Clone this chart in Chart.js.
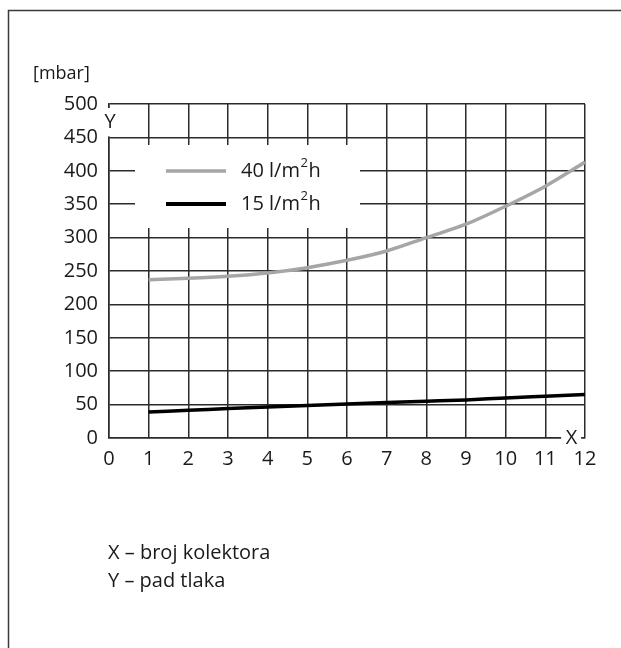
<!DOCTYPE html>
<html>
<head>
<meta charset="utf-8">
<script src="https://cdn.jsdelivr.net/npm/chart.js@4"></script>
<style>
html,body{margin:0;padding:0;background:#fff;}
#wrap{position:relative;width:621px;height:648px;}
canvas{display:block;}
</style>
</head>
<body>
<div id="wrap"><canvas id="c" width="621" height="648"></canvas></div>
<script>
const collectors = [1, 2, 3, 4, 5, 6, 7, 8, 9, 10, 11, 12];
const flow40 = [237, 239, 242, 247, 255, 266, 280, 300, 320, 347, 377, 413];
const flow15 = [39, 41.5, 44, 46.5, 48.5, 51, 53, 55, 57, 60, 62.5, 65];
const seriesLabels = ['40 l/m', '15 l/m'];
const unitLabel = '[mbar]';
const footnotes = ['X – broj kolektora', 'Y – pad tlaka'];

const FONT = '"Open Sans", sans-serif';
const GRID = '#2b2b2b';
const GRAY = '#a6a6a6';
const TXT = '#1a1a1a';

const decor = {
  id: 'decor',
  beforeDraw(chart) {
    const ctx = chart.ctx;
    ctx.save();
    ctx.strokeStyle = '#3a3a3a';
    ctx.lineWidth = 1.5;
    ctx.beginPath();
    ctx.moveTo(8.5, 648); ctx.lineTo(8.5, 10.5); ctx.lineTo(621, 10.5);
    ctx.stroke();
    ctx.fillStyle = TXT;
    ctx.textBaseline = 'middle';
    ctx.textAlign = 'left';
    ctx.font = '18px ' + FONT;
    ctx.fillText(unitLabel, 33, 74);
    ctx.font = '20px ' + FONT;
    ctx.fillText(footnotes[0], 108, 553);
    ctx.fillText(footnotes[1], 108, 581);
    ctx.restore();
  },
  beforeDatasetsDraw(chart) {
    const ctx = chart.ctx;
    const xs = chart.scales.x, ys = chart.scales.y;
    ctx.save();
    // legend box
    ctx.fillStyle = '#fff';
    ctx.fillRect(135, 145, 225, 83);
    const rows = [
      {label: seriesLabels[0], color: GRAY, w: 3.5, y: 171},
      {label: seriesLabels[1], color: '#000', w: 4, y: 204}
    ];
    ctx.textBaseline = 'middle';
    ctx.textAlign = 'left';
    rows.forEach(r => {
      ctx.strokeStyle = r.color; ctx.lineWidth = r.w;
      ctx.beginPath(); ctx.moveTo(166, r.y); ctx.lineTo(226, r.y); ctx.stroke();
      ctx.fillStyle = TXT;
      ctx.font = '20px ' + FONT;
      ctx.fillText(r.label, 241, r.y);
      let wd = ctx.measureText(r.label).width;
      ctx.font = '13px ' + FONT;
      ctx.fillText('2', 241 + wd + 0.5, r.y - 8);
      let w2 = ctx.measureText('2').width;
      ctx.font = '20px ' + FONT;
      ctx.fillText('h', 241 + wd + w2 + 1, r.y);
    });
    // Y axis label gap
    const x0 = xs.getPixelForValue(0);
    const y500 = ys.getPixelForValue(500);
    ctx.fillStyle = '#fff';
    ctx.fillRect(x0 - 7, y500 + 4, 15, ys.getPixelForValue(450) - y500 - 5);
    ctx.fillStyle = TXT;
    ctx.font = '20px ' + FONT;
    ctx.textAlign = 'center';
    ctx.fillText('Y', x0 + 1, y500 + 18);
    // X axis label gap
    const y0 = ys.getPixelForValue(0);
    const x11 = xs.getPixelForValue(11.65);
    ctx.fillStyle = '#fff';
    ctx.fillRect(x11 - 10, y0 - 12, 20, 14);
    ctx.fillStyle = TXT;
    ctx.fillText('X', x11 + 0.5, y0);
    ctx.restore();
  }
};

new Chart(document.getElementById('c'), {
  type: 'line',
  data: {
    datasets: [
      {
        label: seriesLabels[0] + '²h',
        data: collectors.map((c, i) => ({x: c, y: flow40[i]})),
        borderColor: GRAY, borderWidth: 3.5, pointRadius: 0,
        cubicInterpolationMode: 'monotone', fill: false
      },
      {
        label: seriesLabels[1] + '²h',
        data: collectors.map((c, i) => ({x: c, y: flow15[i]})),
        borderColor: '#000', borderWidth: 3.5, pointRadius: 0,
        cubicInterpolationMode: 'monotone', fill: false
      }
    ]
  },
  options: {
    responsive: false,
    animation: false,
    events: [],
    layout: {padding: {left: 0, top: 104, right: 36, bottom: 170}},
    plugins: {legend: {display: false}, tooltip: {enabled: false}, title: {display: false}},
    scales: {
      x: {
        type: 'linear', min: 0, max: 12,
        afterFit(s) { s.height = 40; },
        ticks: {stepSize: 1, color: TXT, font: {family: FONT, size: 20}, padding: 9},
        grid: {color: GRID, lineWidth: 1.5, drawTicks: false},
        border: {color: GRID, width: 1.5}
      },
      y: {
        min: 0, max: 500,
        afterFit(s) { s.width = 109; },
        ticks: {stepSize: 50, color: TXT, font: {family: FONT, size: 20}, padding: 11},
        grid: {color: GRID, lineWidth: 1.5, drawTicks: false},
        border: {color: GRID, width: 1.5}
      }
    }
  },
  plugins: [decor]
});
</script>
</body>
</html>
